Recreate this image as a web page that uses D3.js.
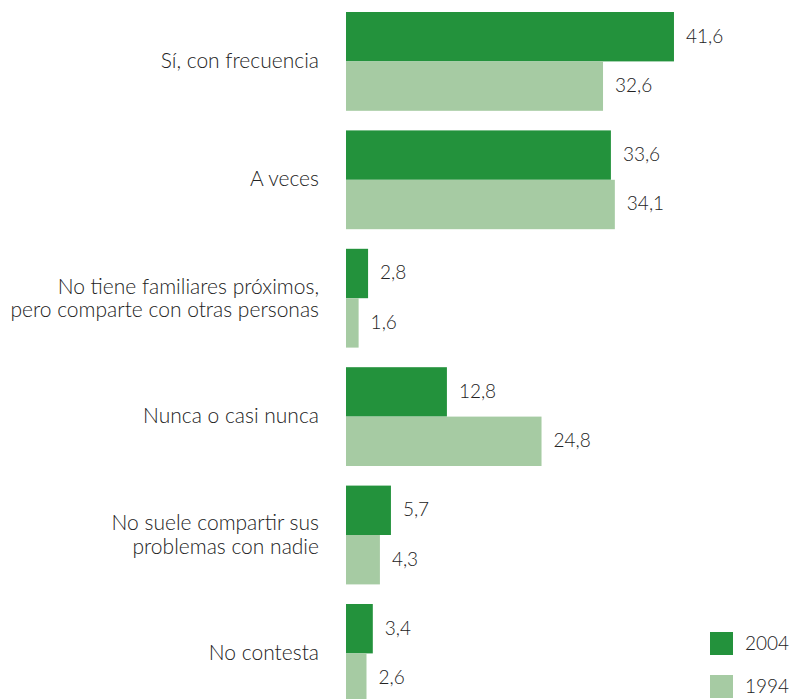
<!DOCTYPE html>
<html>
<head>
<meta charset="utf-8">
<script src="https://cdn.jsdelivr.net/npm/d3@7"></script>
<style>
  html, body { margin: 0; padding: 0; background: #fff; }
  svg { display: block; }
  text { font-family: Lato, "Open Sans", sans-serif; font-weight: 300; fill: #222; }
</style>
</head>
<body>
<svg id="chart" width="793" height="699"></svg>
<script>
const categories = [
  ["Sí, con frecuencia"],
  ["A veces"],
  ["No tiene familiares próximos,", "pero comparte con otras personas"],
  ["Nunca o casi nunca"],
  ["No suele compartir sus", "problemas con nadie"],
  ["No contesta"]
];
const seriesNames = ["2004", "1994"];
const values2004 = [41.6, 33.6, 2.8, 12.8, 5.7, 3.4];
const values1994 = [32.6, 34.1, 1.6, 24.8, 4.3, 2.6];
const colors = ["#23923c", "#a6cba3"];

const svg = d3.select("#chart");
const keys = categories.map((c, i) => i);

const x = d3.scaleLinear().domain([0, 50]).range([346, 740.2]);
const y = d3.scaleBand().domain(keys).range([12, 702.8]).paddingInner(0.1655).paddingOuter(0);
const ySub = d3.scaleBand().domain(seriesNames).range([0, y.bandwidth()]);
const seriesValues = [values2004, values1994];
const fmt = v => d3.format(".1f")(v).replace(".", ",");

const groups = svg.selectAll("g.grp").data(keys).join("g")
  .attr("class", "grp")
  .attr("transform", d => `translate(0,${y(d)})`);

seriesNames.forEach((s, si) => {
  groups.append("rect")
    .attr("x", x(0))
    .attr("y", ySub(s))
    .attr("width", d => x(seriesValues[si][d]) - x(0))
    .attr("height", ySub.bandwidth())
    .attr("fill", colors[si]);
  groups.append("text")
    .attr("x", d => x(seriesValues[si][d]) + 12)
    .attr("y", ySub(s) + ySub.bandwidth() / 2 + 6)
    .attr("font-size", 19)
    .text(d => fmt(seriesValues[si][d]));
});

// category labels
groups.each(function(d) {
  const g = d3.select(this);
  const lines = categories[d];
  const c = y.bandwidth() / 2;
  const offs = lines.length === 1 ? [6.5] : [-4.5, 19];
  lines.forEach((ln, li) => {
    g.append("text")
      .attr("x", 319)
      .attr("y", c + offs[li])
      .attr("text-anchor", "end")
      .attr("font-size", 21)
      .text(ln);
  });
});

// legend
const legend = svg.append("g");
seriesNames.forEach((s, si) => {
  const ly = 632 + si * 43;
  legend.append("rect").attr("x", 710).attr("y", ly).attr("width", 23).attr("height", 23).attr("fill", colors[si]);
  legend.append("text").attr("x", 745).attr("y", ly + 18).attr("font-size", 19).text(s);
});
</script>
</body>
</html>
